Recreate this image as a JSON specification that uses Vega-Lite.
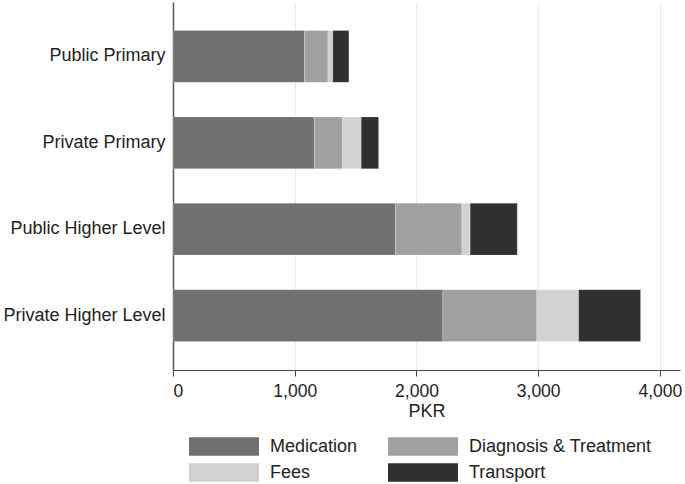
{
  "$schema": "https://vega.github.io/schema/vega-lite/v6.json",
  "autosize": "none",
  "padding": {"left": 173, "top": 2, "right": 5, "bottom": 114},
  "width": 507,
  "height": 368,
  "background": "white",
  "config": {
    "view": {"stroke": null},
    "font": "Liberation Sans"
  },
  "data": {
    "values": [
      {"facility": "Public Primary", "component": "Medication", "k": 1, "pkr": 1080},
      {"facility": "Public Primary", "component": "Diagnosis & Treatment", "k": 2, "pkr": 193},
      {"facility": "Public Primary", "component": "Fees", "k": 3, "pkr": 40},
      {"facility": "Public Primary", "component": "Transport", "k": 4, "pkr": 132},
      {"facility": "Private Primary", "component": "Medication", "k": 1, "pkr": 1161},
      {"facility": "Private Primary", "component": "Diagnosis & Treatment", "k": 2, "pkr": 232},
      {"facility": "Private Primary", "component": "Fees", "k": 3, "pkr": 153},
      {"facility": "Private Primary", "component": "Transport", "k": 4, "pkr": 143},
      {"facility": "Public Higher Level", "component": "Medication", "k": 1, "pkr": 1827},
      {"facility": "Public Higher Level", "component": "Diagnosis & Treatment", "k": 2, "pkr": 546},
      {"facility": "Public Higher Level", "component": "Fees", "k": 3, "pkr": 68},
      {"facility": "Public Higher Level", "component": "Transport", "k": 4, "pkr": 387},
      {"facility": "Private Higher Level", "component": "Medication", "k": 1, "pkr": 2217},
      {"facility": "Private Higher Level", "component": "Diagnosis & Treatment", "k": 2, "pkr": 772},
      {"facility": "Private Higher Level", "component": "Fees", "k": 3, "pkr": 343},
      {"facility": "Private Higher Level", "component": "Transport", "k": 4, "pkr": 509}
    ]
  },
  "mark": {"type": "bar", "stroke": "#ffffff", "strokeOpacity": 0.35, "strokeWidth": 0.6},
  "encoding": {
    "y": {
      "field": "facility",
      "type": "nominal",
      "sort": ["Public Primary", "Private Primary", "Public Higher Level", "Private Higher Level"],
      "scale": {"paddingInner": 0.4, "paddingOuter": 0.33},
      "axis": {
        "title": null,
        "ticks": false,
        "labelFontSize": 18,
        "labelColor": "#222222",
        "labelPadding": 8,
        "labelLimit": 250,
        "domainColor": "#555555",
        "domainWidth": 1.5
      }
    },
    "x": {
      "field": "pkr",
      "type": "quantitative",
      "stack": "zero",
      "scale": {"domain": [0, 4165], "nice": false},
      "axis": {
        "title": "PKR",
        "titleFontSize": 18,
        "titleFontWeight": "normal",
        "titleColor": "#222222",
        "titlePadding": 3,
        "values": [0, 1000, 2000, 3000, 4000],
        "format": ",.0f",
        "labelFontSize": 17.5,
        "labelColor": "#222222",
        "labelPadding": 6,
        "tickSize": 6,
        "tickColor": "#444444",
        "domainColor": "#444444",
        "domainWidth": 1.2,
        "grid": true,
        "gridColor": "#e4ecee",
        "gridWidth": 1
      }
    },
    "color": {
      "field": "component",
      "type": "nominal",
      "scale": {
        "domain": ["Medication", "Fees", "Diagnosis & Treatment", "Transport"],
        "range": ["#707070", "#d2d2d2", "#a0a0a0", "#303030"]
      },
      "legend": {
        "title": null,
        "orient": "none",
        "legendX": 16,
        "legendY": 435,
        "columns": 2,
        "columnPadding": 30,
        "rowPadding": 7,
        "clipHeight": 19,
        "symbolType": "M-1,-0.265H1V0.265H-1Z",
        "symbolSize": 4900,
        "symbolStrokeWidth": 0,
        "symbolOpacity": 1,
        "labelOffset": 11,
        "labelFontSize": 18,
        "labelColor": "#222222",
        "labelLimit": 300
      }
    },
    "order": {"field": "k", "type": "quantitative"}
  }
}
